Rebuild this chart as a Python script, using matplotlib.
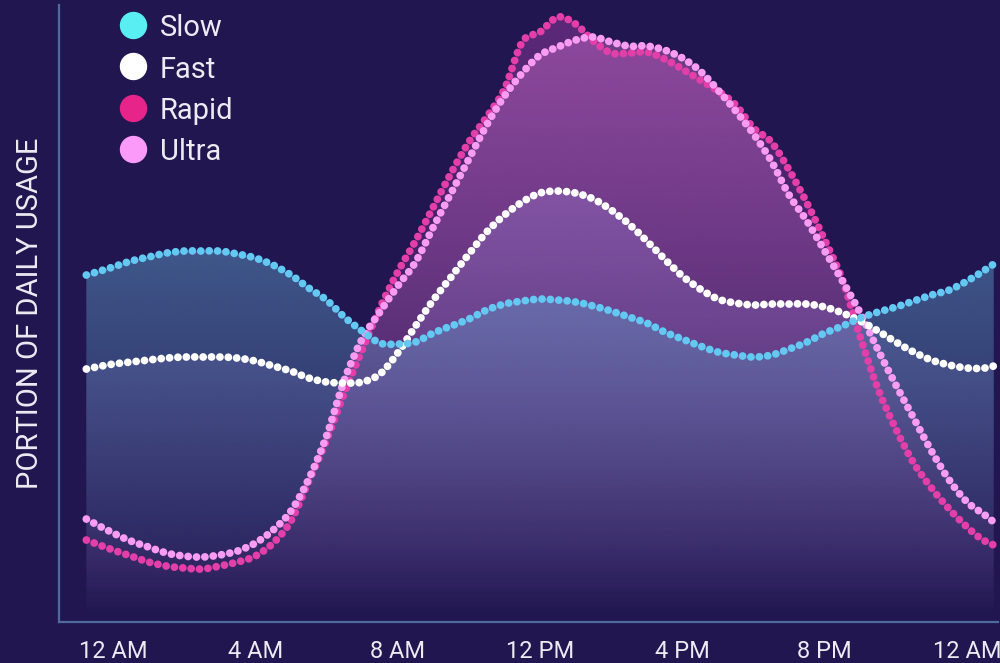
import numpy as np
import matplotlib.pyplot as plt
from matplotlib.path import Path
from matplotlib.patches import PathPatch
from matplotlib.lines import Line2D
from matplotlib.colors import to_rgb

plt.rcParams['font.family'] = ['Roboto', 'DejaVu Sans']

# hours of the day (half-hour steps, padded a bit past midnight on both ends)
hours = [-0.75, *np.arange(0, 25, 0.5), 24.75]

slow = [3.47, 3.55, 3.61, 3.65, 3.69, 3.71, 3.71, 3.71, 3.68, 3.64, 3.57, 3.47, 3.34,
        3.22, 3.05, 2.91, 2.79, 2.78, 2.80, 2.89, 2.96, 3.03, 3.12, 3.18, 3.21, 3.23,
        3.22, 3.20, 3.16, 3.11, 3.05, 2.99, 2.90, 2.83, 2.76, 2.70, 2.67, 2.65, 2.67,
        2.73, 2.80, 2.89, 2.96, 3.04, 3.10, 3.15, 3.21, 3.27, 3.32, 3.41, 3.52, 3.58]
fast = [2.53, 2.58, 2.60, 2.62, 2.64, 2.65, 2.65, 2.65, 2.64, 2.61, 2.56, 2.51, 2.44,
        2.40, 2.39, 2.40, 2.48, 2.69, 2.96, 3.22, 3.45, 3.68, 3.90, 4.07, 4.20, 4.29,
        4.31, 4.29, 4.23, 4.12, 3.98, 3.81, 3.63, 3.46, 3.33, 3.23, 3.19, 3.17, 3.18,
        3.18, 3.18, 3.15, 3.09, 3.01, 2.91, 2.80, 2.70, 2.62, 2.57, 2.54, 2.54, 2.56]
rapid = [0.82, 0.72, 0.66, 0.60, 0.56, 0.54, 0.53, 0.56, 0.60, 0.66, 0.79, 1.01, 1.41,
         1.82, 2.29, 2.72, 3.14, 3.50, 3.81, 4.15, 4.49, 4.80, 5.05, 5.33, 5.80, 5.90,
         6.05, 5.98, 5.81, 5.69, 5.69, 5.70, 5.63, 5.53, 5.42, 5.31, 5.17, 4.94, 4.80,
         4.52, 4.19, 3.82, 3.42, 2.85, 2.33, 1.93, 1.59, 1.34, 1.13, 0.95, 0.81, 0.77]
ultra = [1.03, 0.89, 0.81, 0.75, 0.69, 0.66, 0.65, 0.67, 0.71, 0.79, 0.92, 1.11, 1.43,
         1.86, 2.42, 2.83, 3.10, 3.36, 3.60, 3.95, 4.29, 4.63, 4.97, 5.26, 5.49, 5.67,
         5.75, 5.82, 5.85, 5.80, 5.76, 5.76, 5.72, 5.64, 5.51, 5.32, 5.11, 4.88, 4.61,
         4.27, 4.01, 3.71, 3.41, 3.09, 2.72, 2.37, 2.04, 1.71, 1.42, 1.20, 1.07, 1.00]

labels = ['Slow', 'Fast', 'Rapid', 'Ultra']
legend_colors = ['#58eef2', '#ffffff', '#e6248a', '#fb9af8']
tick_hours = [0, 4, 8, 12, 16, 20, 24]
tick_labels = ['12 AM', '4 AM', '8 AM', '12 PM', '4 PM', '8 PM', '12 AM']

bg = '#211650'
axis_col = '#4d6b9b'
text_col = '#ecebf3'

# drawn back to front: series, line colour, fill colour, fill alpha at top
layers = [
    (rapid, '#e43ea9', '#963ca0', 0.50),
    (ultra, '#f99cf2', '#c86ec8', 0.47),
    (fast, '#ffffff', '#9a80d0', 0.35),
    (slow, '#63c8f2', '#5e99c6', 0.50),
]


def smooth_path(x, y):
    # cubic hermite curve through the points, as bezier segments
    x = np.asarray(x, float)
    y = np.asarray(y, float)
    m = np.gradient(y, x)
    verts = [(x[0], y[0])]
    codes = [Path.MOVETO]
    for i in range(len(x) - 1):
        d = (x[i + 1] - x[i]) / 3
        verts += [(x[i] + d, y[i] + m[i] * d), (x[i + 1] - d, y[i + 1] - m[i + 1] * d),
                  (x[i + 1], y[i + 1])]
        codes += [Path.CURVE4] * 3
    return verts, codes


fig = plt.figure(figsize=(10, 6.63), dpi=100, facecolor=bg)
ax = fig.add_axes([0.059, 0.0618, 0.939, 0.9306])
ax.set_facecolor(bg)

# gradient fills under each curve
for i, (vals, lc, fc, a0) in enumerate(layers):
    verts, codes = smooth_path(hours, vals)
    verts = verts + [(hours[-1], 0), (hours[0], 0), (hours[0], vals[0])]
    codes = codes + [Path.LINETO, Path.LINETO, Path.CLOSEPOLY]
    clip = PathPatch(Path(verts, codes), facecolor='none', edgecolor='none')
    ax.add_patch(clip)
    grad = np.zeros((256, 1, 4))
    grad[:, 0, :3] = to_rgb(fc)
    grad[:, 0, 3] = np.linspace(a0, 0, 256)
    im = ax.imshow(grad, extent=[hours[0], hours[-1], 0, max(vals)], aspect='auto',
                   interpolation='bilinear', origin='upper', zorder=1 + i * 0.1)
    im.set_clip_path(clip)

# dotted lines
for i, (vals, lc, fc, a0) in enumerate(layers):
    verts, codes = smooth_path(hours, vals)
    line = PathPatch(Path(verts, codes), fill=False, edgecolor=lc, lw=5.6,
                     linestyle=(0, (0.01, 1.07)), capstyle='round', zorder=3 + i * 0.1)
    ax.add_patch(line)

ax.set_xlim(-1.518, 24.87)
ax.set_ylim(0, 6.17)

for s in ['top', 'right']:
    ax.spines[s].set_visible(False)
for s in ['left', 'bottom']:
    ax.spines[s].set_color(axis_col)
    ax.spines[s].set_linewidth(1.6)

ax.set_yticks([])
ax.set_xticks(tick_hours)
ax.set_xticklabels(tick_labels)
ax.tick_params(axis='x', length=0, pad=13, labelsize=17, labelcolor=text_col)

ax.set_ylabel('PORTION OF DAILY USAGE', fontsize=21, color=text_col)
ax.yaxis.set_label_coords(-0.031, 0.5)
ax.yaxis.label.set_verticalalignment('center')

# legend
W, H = 1000, 663
for k, (lab, col) in enumerate(zip(labels, legend_colors)):
    cy = 24.5 + k * 41.5
    fig.add_artist(Line2D([133 / W], [1 - cy / H], marker='o', markersize=18.7,
                          color=col, linestyle='', transform=fig.transFigure))
    fig.text(160 / W, 1 - (cy + 11.5) / H, lab, fontsize=21, color=text_col,
             va='baseline', ha='left')

fig.savefig('out.png', dpi=100, facecolor=bg)
